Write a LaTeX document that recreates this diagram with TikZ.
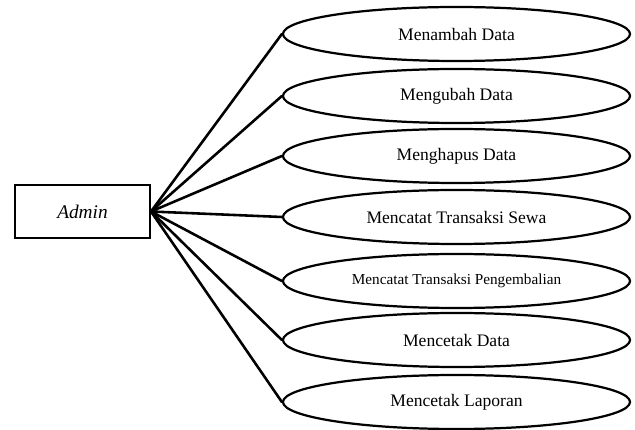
\documentclass[tikz,border=0pt]{standalone}
\usepackage{fontspec}
\setmainfont{Liberation Serif}
\usetikzlibrary{shapes.geometric}
\tikzset{
  actorbox/.style={draw=black,fill=white,line width=1.7pt,
                   minimum width=4.05cm,minimum height=1.59cm,
                   inner sep=2pt,font=\fontsize{16.5}{18}\selectfont\itshape},
  usecase/.style={ellipse,draw=black,fill=white,line width=1.9pt,
                  minimum width=10.41cm,minimum height=1.62cm,
                  inner sep=0pt,font=\fontsize{15}{17}\selectfont},
  link/.style={line width=2.2pt,line cap=round}
}
\begin{document}
\begin{tikzpicture}[x=0.03cm,y=-0.03cm]
  \useasboundingbox (0,0) rectangle (635,430);
  \node[actorbox] (admin) at (82.5,211.5) {Admin};

  \node[usecase] (tambah) at (456.5,34) {Menambah Data};
  \node[usecase] (ubah) at (456.5,96) {Mengubah Data};
  \node[usecase] (hapus) at (456.5,156) {Menghapus Data};
  \node[usecase] (sewa) at (456.5,217) {Mencatat Transaksi Sewa};
  \node[usecase,font=\fontsize{13}{15}\selectfont] (kembali) at (456.5,281) {Mencatat Transaksi Pengembalian};
  \node[usecase] (cetak) at (456.5,340) {Mencetak Data};
  \node[usecase] (laporan) at (456.5,402) {Mencetak Laporan};

  \draw[link] (admin.east) -- (tambah.west);
  \draw[link] (admin.east) -- (ubah.west);
  \draw[link] (admin.east) -- (hapus.west);
  \draw[link] (admin.east) -- (sewa.west);
  \draw[link] (admin.east) -- (kembali.west);
  \draw[link] (admin.east) -- (cetak.west);
  \draw[link] (admin.east) -- (laporan.west);
\end{tikzpicture}
\end{document}
